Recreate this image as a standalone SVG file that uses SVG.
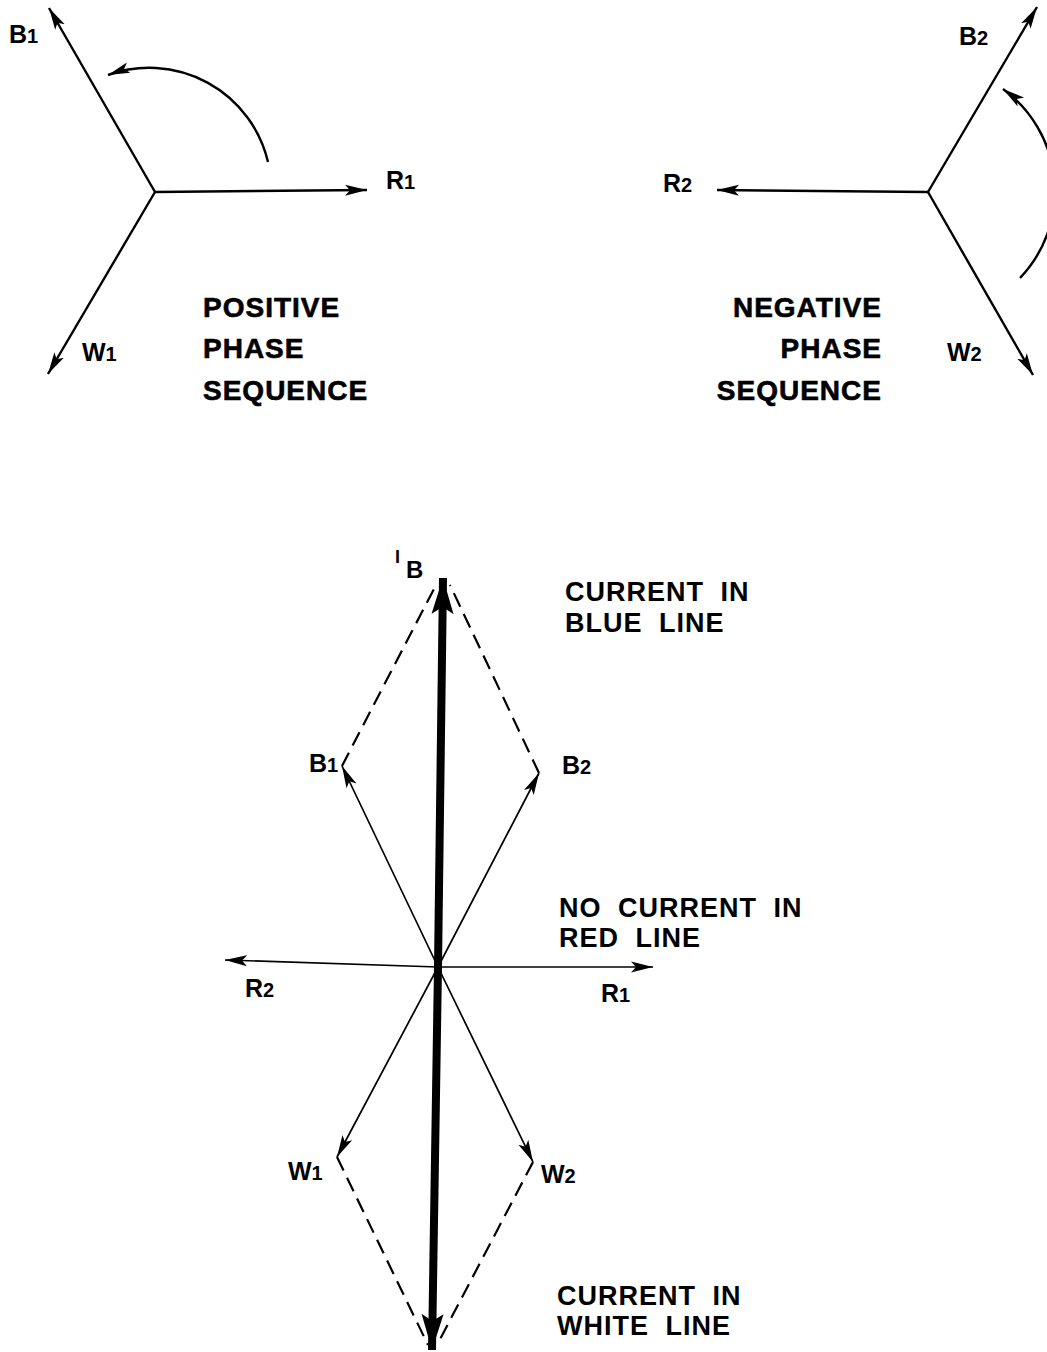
<svg xmlns="http://www.w3.org/2000/svg" width="1047" height="1352" viewBox="0 0 1047 1352">
<style>
.v{stroke:#000;stroke-width:2.4;fill:none;marker-end:url(#ah)}
.t{stroke:#000;stroke-width:1.7;fill:none;marker-end:url(#ah)}
.d{stroke:#000;stroke-width:2.2;fill:none;stroke-dasharray:15 8}
.lbl{font-family:"Liberation Sans",Arial,sans-serif;font-weight:bold;font-size:25px;fill:#000}
.sub{font-size:20px}
.cap{font-family:"Liberation Sans",Arial,sans-serif;font-weight:bold;font-size:28px;letter-spacing:1px;fill:#000;stroke:#000;stroke-width:0.6}
.cap2{font-family:"Liberation Sans",Arial,sans-serif;font-weight:bold;font-size:27px;letter-spacing:1px;word-spacing:8px;fill:#000}
.ib1{font-size:18px}
.ib2{font-size:24px}
</style>
<defs>
<marker id="ah" markerUnits="userSpaceOnUse" markerWidth="24" markerHeight="14" refX="22" refY="6" orient="auto">
<path d="M0,0.5 L22,6 L0,11.5 L5,6 z" fill="#000"/>
</marker>
<marker id="ahb" markerUnits="userSpaceOnUse" markerWidth="40" markerHeight="26" refX="36" refY="12" orient="auto">
<path d="M0,1 L36,12 L0,23 L7,12 z" fill="#000"/>
</marker>
</defs>
<g id="connectors">
<line class="v" x1="155" y1="192" x2="49" y2="8"/>
<line class="v" x1="155" y1="192" x2="367" y2="190"/>
<line class="v" x1="155" y1="192" x2="48" y2="374"/>
<path class="v" d="M268,162 A122,122 0 0 0 108,75"/>
<line class="v" x1="928" y1="192" x2="1037" y2="7"/>
<line class="v" x1="928" y1="192" x2="717" y2="190"/>
<line class="v" x1="928" y1="192" x2="1033" y2="375"/>
<path class="v" d="M1020,278 A126,126 0 0 0 1003,89"/>
<line class="t" x1="438" y1="967" x2="225" y2="960"/>
<line class="t" x1="438" y1="967" x2="653" y2="967"/>
<line class="t" x1="438" y1="967" x2="342" y2="766"/>
<line class="t" x1="438" y1="967" x2="539" y2="773"/>
<line class="t" x1="438" y1="967" x2="337" y2="1157"/>
<line class="t" x1="438" y1="967" x2="533" y2="1162"/>
<line class="d" x1="342" y1="766" x2="436" y2="585"/>
<line class="d" x1="539" y1="773" x2="450" y2="585"/>
<line class="d" x1="337" y1="1157" x2="428" y2="1345"/>
<line class="d" x1="533" y1="1162" x2="437" y2="1345"/>
<line x1="438" y1="967" x2="443" y2="578" stroke="#000" stroke-width="8" marker-end="url(#ahb)"/>
<line x1="438" y1="967" x2="432" y2="1350" stroke="#000" stroke-width="8" marker-end="url(#ahb)"/>
</g>
<g id="positive">
<text class="lbl" x="9" y="43">B<tspan class="sub">1</tspan></text>
<text class="lbl" x="386" y="189">R<tspan class="sub">1</tspan></text>
<text class="lbl" x="82" y="361">W<tspan class="sub">1</tspan></text>
<text class="cap" x="203" y="317">POSITIVE</text>
<text class="cap" x="203" y="358">PHASE</text>
<text class="cap" x="203" y="400">SEQUENCE</text>
</g>
<g id="negative">
<text class="lbl" x="959" y="45">B<tspan class="sub">2</tspan></text>
<text class="lbl" x="663" y="192">R<tspan class="sub">2</tspan></text>
<text class="lbl" x="947" y="361">W<tspan class="sub">2</tspan></text>
<text class="cap" x="882" y="317" text-anchor="end">NEGATIVE</text>
<text class="cap" x="882" y="358" text-anchor="end">PHASE</text>
<text class="cap" x="882" y="400" text-anchor="end">SEQUENCE</text>
</g>
<g id="combined">
<text class="lbl ib1" x="395" y="563">I</text>
<text class="lbl ib2" x="406" y="578">B</text>
<text class="lbl" x="309" y="772">B<tspan class="sub">1</tspan></text>
<text class="lbl" x="562" y="774">B<tspan class="sub">2</tspan></text>
<text class="lbl" x="245" y="997">R<tspan class="sub">2</tspan></text>
<text class="lbl" x="601" y="1002">R<tspan class="sub">1</tspan></text>
<text class="lbl" x="288" y="1180">W<tspan class="sub">1</tspan></text>
<text class="lbl" x="541" y="1183">W<tspan class="sub">2</tspan></text>
<text class="cap2" x="565" y="601">CURRENT IN</text>
<text class="cap2" x="565" y="632">BLUE LINE</text>
<text class="cap2" x="559" y="917">NO CURRENT IN</text>
<text class="cap2" x="559" y="947">RED LINE</text>
<text class="cap2" x="557" y="1305">CURRENT IN</text>
<text class="cap2" x="557" y="1335">WHITE LINE</text>
</g>
</svg>
